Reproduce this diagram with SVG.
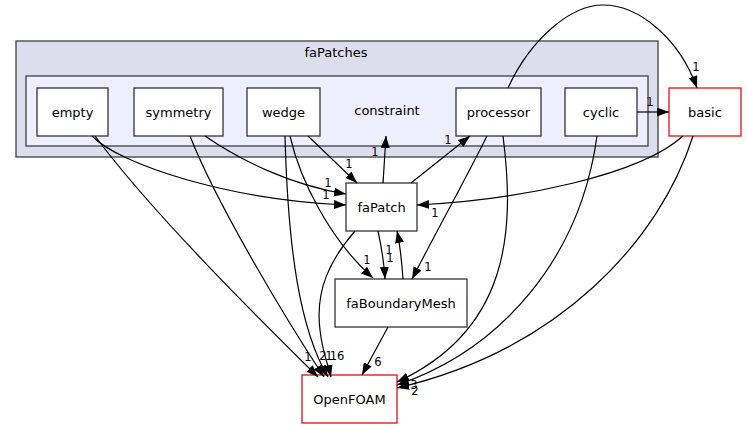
<svg xmlns="http://www.w3.org/2000/svg" width="747" height="429" viewBox="0 0 747 429">
<defs>
<marker id="ah" viewBox="0 0 12 9" refX="12" refY="4.5" markerWidth="12" markerHeight="9" markerUnits="userSpaceOnUse" orient="auto">
<path d="M0,0 L12,4.5 L0,9 z" fill="#000"/>
</marker>
<style>
text{font-family:"DejaVu Sans","Liberation Sans",sans-serif;fill:#000}
.n{font-size:13px;text-anchor:middle}
.l{font-size:11.5px;text-anchor:middle;fill:#000}
.box{fill:#fff;stroke:#333;stroke-width:1.3}
.red{fill:#fff;stroke:#e01010;stroke-width:1.3}
.e{fill:none;stroke:#000;stroke-width:1.2;marker-end:url(#ah)}
</style>
</defs>
<rect width="747" height="429" fill="#fff"/>
<g id="cluster_faPatches">
<rect x="16" y="41" width="642" height="116" fill="#ddddee" stroke="#404040" stroke-width="1.3"/>
<text class="n" x="336" y="57">faPatches</text>
</g>
<g id="cluster_constraint">
<rect x="26" y="76" width="622" height="70" fill="#eeeeff" stroke="#404040" stroke-width="1.3"/>
<text class="n" x="387" y="115">constraint</text>
</g>
<g id="node_empty"><rect class="box" x="37" y="88" width="71" height="48"/><text class="n" x="72.5" y="116.5">empty</text></g>
<g id="node_symmetry"><rect class="box" x="134" y="88" width="89" height="48"/><text class="n" x="178.5" y="116.5">symmetry</text></g>
<g id="node_wedge"><rect class="box" x="247" y="88" width="73" height="48"/><text class="n" x="283.5" y="116.5">wedge</text></g>
<g id="node_processor"><rect class="box" x="456" y="88" width="85" height="48"/><text class="n" x="498.5" y="116.5">processor</text></g>
<g id="node_cyclic"><rect class="box" x="565" y="88" width="72" height="48"/><text class="n" x="601" y="116.5">cyclic</text></g>
<g id="node_basic"><rect class="red" x="669" y="88" width="72" height="48"/><text class="n" x="705" y="116.5">basic</text></g>
<g id="node_faPatch"><rect class="box" x="346" y="183" width="71" height="48"/><text class="n" x="381.5" y="211.5">faPatch</text></g>
<g id="node_faBoundaryMesh"><rect class="box" x="335" y="279" width="132" height="48"/><text class="n" x="401" y="307.5">faBoundaryMesh</text></g>
<g id="node_OpenFOAM"><rect class="red" x="302" y="375" width="95" height="48"/><text class="n" x="349.5" y="403.5">OpenFOAM</text></g>
<g id="edges">
<path class="e" d="M92,136 C120,165 230,200 346,205"/>
<text class="l" x="326" y="199">1</text>
<path class="e" d="M205,136 C240,160 290,185 346,194"/>
<text class="l" x="328" y="187">1</text>
<path class="e" d="M95,136 C150,210 250,310 318,377"/>
<text class="l" x="308" y="361">1</text>
<path class="e" d="M190,136 C215,200 280,310 324,377"/>
<text class="l" x="323" y="360">2</text>
<path class="e" d="M308,136 L357,183"/>
<text class="l" x="349" y="168">1</text>
<path class="e" d="M285,136 C288,250 300,330 328,377"/>
<text class="l" x="329" y="360">1</text>
<path class="e" d="M290,136 C300,180 330,240 373,278"/>
<text class="l" x="367" y="264">1</text>
<path class="e" d="M383,183 L386,136"/>
<text class="l" x="375" y="156">1</text>
<path class="e" d="M411,183 L470,136"/>
<text class="l" x="448" y="144">1</text>
<path class="e" d="M508,88 C530,40 570,5 603,5 C640,5 680,40 697,88"/>
<text class="l" x="696" y="71">1</text>
<path class="e" d="M487,136 C465,180 440,225 412,279"/>
<text class="l" x="428" y="271">1</text>
<path class="e" d="M503,136 C515,230 510,330 397,382"/>
<path class="e" d="M637,112 L669,112"/>
<text class="l" x="650" y="106">1</text>
<path class="e" d="M597,136 C580,260 500,350 397,385"/>
<path class="e" d="M683,136 C640,175 520,200 417,205"/>
<text class="l" x="435" y="217">1</text>
<path class="e" d="M693,136 C660,240 560,350 397,388"/>
<text class="l" x="414" y="389">3</text>
<text class="l" x="415" y="395">2</text>
<path class="e" d="M378,231 C381,245 384,260 385,279"/>
<text class="l" x="390" y="262">1</text>
<path class="e" d="M403,279 C402,265 400,245 397,231"/>
<text class="l" x="389" y="254">1</text>
<path class="e" d="M355,231 C330,260 315,290 320,330 C322,350 328,365 331,377"/>
<text class="l" x="337" y="360">16</text>
<path class="e" d="M388,327 L362,375"/>
<text class="l" x="378" y="366">6</text>
</g>
</svg>
